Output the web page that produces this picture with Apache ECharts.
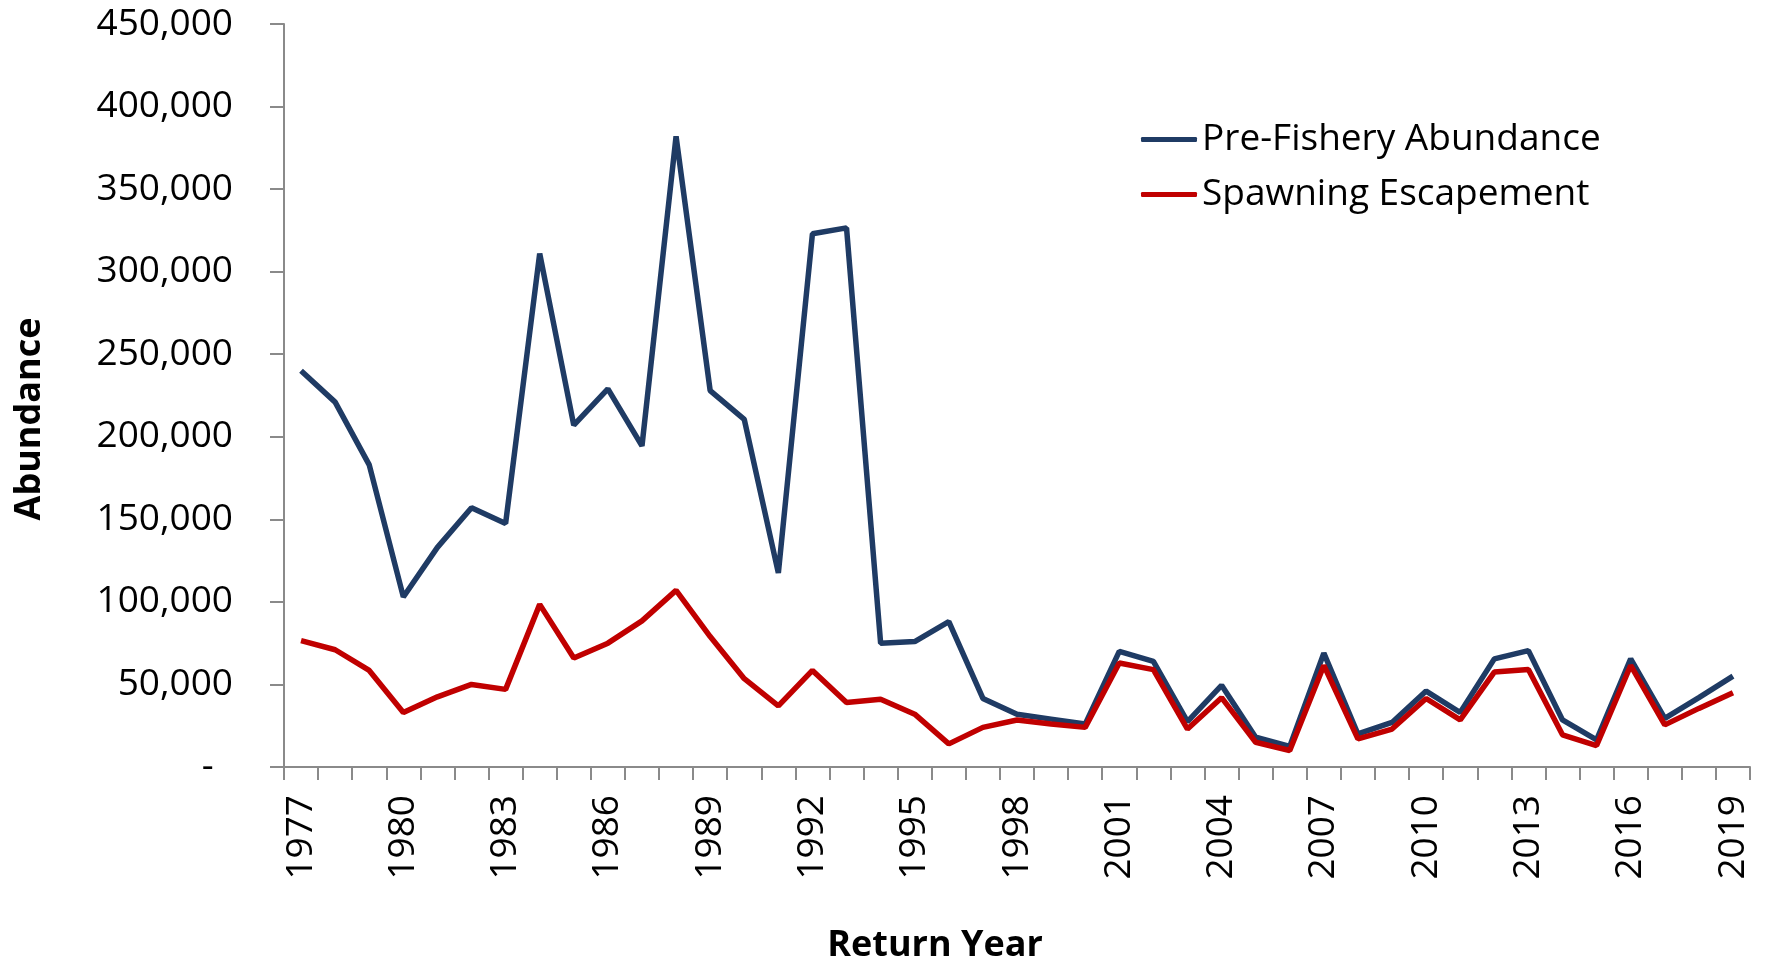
<!DOCTYPE html>
<html>
<head>
<meta charset="utf-8">
<script src="https://cdn.jsdelivr.net/npm/echarts@6/dist/echarts.min.js"></script>
<style>
html,body{margin:0;padding:0;background:#fff;}
#chart{width:1767px;height:966px;}
</style>
</head>
<body>
<div id="chart"></div>
<script>
const years = ['1977','1978','1979','1980','1981','1982','1983','1984','1985','1986','1987','1988','1989','1990','1991','1992','1993','1994','1995','1996','1997','1998','1999','2000','2001','2002','2003','2004','2005','2006','2007','2008','2009','2010','2011','2012','2013','2014','2015','2016','2017','2018','2019'];
const preFishery = [240000,221000,183000,103000,133000,157000,147500,311000,207000,229000,194500,382000,228000,210500,117500,323000,326500,75000,76000,88000,41500,32000,29000,26000,70000,64000,27500,49500,18000,12500,69000,20000,27000,46000,33000,65500,70500,28500,16500,65500,29500,42000,55000];
const spawning = [76500,71000,58500,33000,42500,50000,47000,98500,66000,75000,88500,107000,79000,53500,37000,58500,39000,41000,32000,14000,24000,28500,26000,24000,63000,59000,23000,42000,15000,10000,61500,17000,23000,41500,28500,57500,59000,19500,13000,61500,25500,35500,45000];
const seriesNames = ['Pre-Fishery Abundance','Spawning Escapement'];
const yTicks = {min:0, max:450000, interval:50000};

const FONT = "'Open Sans', 'Noto Sans', sans-serif";
const AX = '#8a8a8a';
const chart = echarts.init(document.getElementById('chart'));
chart.setOption({
  backgroundColor:'#ffffff',
  animation:false,
  grid:{left:284,right:17,top:24,bottom:199,containLabel:false,outerBoundsMode:'none'},
  legend:{
    left:1136, top:114, orient:'vertical', itemWidth:56, itemHeight:5, itemGap:14,
    icon:'roundRect',
    textStyle:{fontFamily:FONT,fontSize:37,color:'#000',lineHeight:41},
    data:seriesNames
  },
  xAxis:{
    type:'category', data:years, boundaryGap:true,
    axisLine:{lineStyle:{color:AX,width:2}},
    axisTick:{show:true,interval:0,length:13,lineStyle:{color:AX,width:2}},
    axisLabel:{interval:2,rotate:90,margin:28,fontFamily:FONT,fontSize:37,color:'#000'},
    splitLine:{show:false}
  },
  yAxis:{
    type:'value', min:yTicks.min, max:yTicks.max, interval:yTicks.interval,
    axisLine:{show:true,lineStyle:{color:AX,width:2}},
    axisTick:{show:true,length:14,lineStyle:{color:AX,width:2}},
    axisLabel:{margin:51,fontFamily:FONT,fontSize:37,color:'#000',
      formatter:function(v){return v===0?'-  ':v.toLocaleString('en-US');}},
    splitLine:{show:false}
  },
  graphic:[
    {type:'text',x:935,y:946,style:{text:'Return Year',font:"bold 36px 'Open Sans', sans-serif",fill:'#000',align:'center',verticalAlign:'middle'}},
    {type:'text',x:30,y:419,rotation:Math.PI/2,style:{text:'Abundance',font:"bold 36px 'Open Sans', sans-serif",fill:'#000',align:'center',verticalAlign:'middle'}}
  ],
  series:[
    {name:seriesNames[0],type:'line',data:preFishery,showSymbol:false,symbol:'none',
     lineStyle:{color:'#1F3B64',width:5.5},itemStyle:{color:'#1F3B64'}},
    {name:seriesNames[1],type:'line',data:spawning,showSymbol:false,symbol:'none',
     lineStyle:{color:'#C00000',width:5.5},itemStyle:{color:'#C00000'}}
  ]
});
</script>
</body>
</html>
